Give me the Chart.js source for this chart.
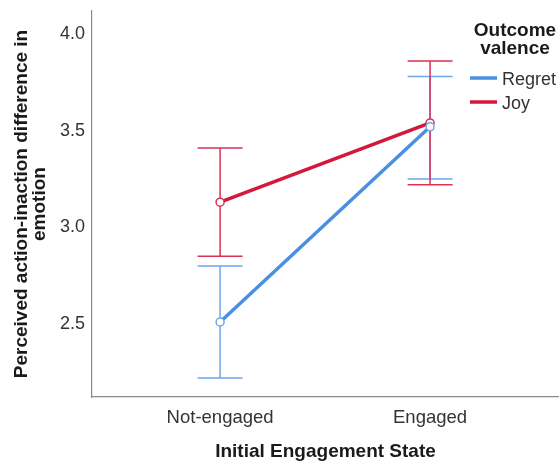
<!DOCTYPE html>
<html lang="en">
<head>
  <meta charset="UTF-8" />
  <title>Perceived action-inaction difference</title>
  <script src="https://cdn.jsdelivr.net/npm/chart.js"></script>
  <style>
    body { margin: 0; background: #fff; }
    #wrap { width: 559px; height: 464px; }
  </style>
</head>
<body>
  <div id="wrap"><canvas id="chart"></canvas></div>

  <script>
    // values
    const categories = ["Not-engaged", "Engaged"];
    const regretMean = [2.50, 3.51];
    const regretLow  = [2.21, 3.24];
    const regretHigh = [2.79, 3.77];
    const joyMean = [3.12, 3.53];
    const joyLow  = [2.84, 3.21];
    const joyHigh = [3.40, 3.85];
    const yTicks = [2.5, 3.0, 3.5, 4.0];

    const BLUE = "#4a90e2", BLUE_BAR = "#6fa6ea";
    const RED = "#d2183c", RED_BAR = "#d8315a";
    const FONT = "'Liberation Sans', Arial, sans-serif";

    const toPoints = arr => arr.map((v, i) => ({ x: i, y: v }));

    // error bars, drawn under the mean lines
    const errorBars = {
      id: "errorBars",
      beforeDatasetsDraw(chart) {
        const { ctx, scales: { x, y } } = chart;
        const sets = [
          [regretLow, regretHigh, BLUE_BAR],
          [joyLow, joyHigh, RED_BAR]
        ];
        ctx.save();
        ctx.lineWidth = 1.5;
        sets.forEach(([lo, hi, col]) => {
          ctx.strokeStyle = col;
          lo.forEach((l, i) => {
            const px = x.getPixelForValue(i);
            const y1 = y.getPixelForValue(l), y2 = y.getPixelForValue(hi[i]);
            ctx.beginPath();
            ctx.moveTo(px, y1); ctx.lineTo(px, y2);
            ctx.moveTo(px - 22.5, y1); ctx.lineTo(px + 22.5, y1);
            ctx.moveTo(px - 22.5, y2); ctx.lineTo(px + 22.5, y2);
            ctx.stroke();
          });
        });
        ctx.restore();
      }
    };

    // legend in the top right corner
    const sideLegend = {
      id: "sideLegend",
      afterDraw(chart) {
        const ctx = chart.ctx;
        ctx.save();
        ctx.fillStyle = "#1a1a1a";
        ctx.textAlign = "center";
        ctx.textBaseline = "middle";
        ctx.font = "bold 19px " + FONT;
        ctx.fillText("Outcome", 515, 31);
        ctx.fillText("valence", 515, 49);
        ctx.textAlign = "left";
        ctx.font = "18px " + FONT;
        ctx.lineWidth = 3.5;
        [["Regret", BLUE, 78], ["Joy", RED, 102]].forEach(([name, col, yy]) => {
          ctx.strokeStyle = col;
          ctx.beginPath();
          ctx.moveTo(470, yy); ctx.lineTo(497, yy);
          ctx.stroke();
          ctx.fillStyle = "#333";
          ctx.fillText(name, 502, yy + 2);
        });
        ctx.restore();
      }
    };

    new Chart(document.getElementById("chart"), {
      type: "line",
      data: {
        datasets: [
          {
            label: "Regret",
            data: toPoints(regretMean),
            borderColor: BLUE,
            borderWidth: 3.5,
            pointRadius: 4,
            pointBorderWidth: 1.5,
            pointBorderColor: BLUE_BAR,
            pointBackgroundColor: "#fff"
          },
          {
            label: "Joy",
            data: toPoints(joyMean),
            borderColor: RED,
            borderWidth: 3.5,
            pointRadius: 4,
            pointBorderWidth: 1.5,
            pointBorderColor: RED_BAR,
            pointBackgroundColor: "#fff"
          }
        ]
      },
      options: {
        responsive: true,
        maintainAspectRatio: false,
        animation: false,
        layout: { autoPadding: false, padding: { top: 11, right: 0, left: 0, bottom: 0 } },
        plugins: {
          legend: { display: false },
          tooltip: { enabled: false }
        },
        scales: {
          x: {
            type: "linear",
            min: -0.61,
            max: 1.614,
            afterFit: s => { s.height = 67; s.paddingLeft = 0; s.paddingRight = 0; },
            afterBuildTicks: s => { s.ticks = categories.map((c, i) => ({ value: i })); },
            grid: { display: false, drawTicks: false },
            border: { color: "#8a8a8a", width: 1.2 },
            ticks: {
              padding: 10,
              color: "#333",
              font: { family: FONT, size: 18.5 },
              callback: v => categories[v]
            },
            title: {
              display: true,
              text: "Initial Engagement State",
              color: "#1a1a1a",
              font: { family: FONT, size: 19, weight: "bold", lineHeight: 1 },
              padding: { top: 0, bottom: 3 }
            }
          },
          y: {
            min: 2.112,
            max: 4.109,
            afterFit: s => { s.width = 92; s.paddingTop = 0; s.paddingBottom = 0; },
            afterBuildTicks: s => { s.ticks = yTicks.map(v => ({ value: v })); },
            grid: { display: false, drawTicks: false },
            border: { color: "#8a8a8a", width: 1.2 },
            ticks: {
              padding: 7,
              labelOffset: 2,
              color: "#333",
              font: { family: FONT, size: 18 },
              callback: v => v.toFixed(1)
            },
            title: {
              display: true,
              text: ["Perceived action-inaction difference in", "emotion"],
              color: "#1a1a1a",
              font: { family: FONT, size: 19, weight: "bold", lineHeight: 0.95 },
              padding: { top: 13, bottom: 0 }
            }
          }
        }
      },
      plugins: [errorBars, sideLegend]
    });
  </script>
</body>
</html>
